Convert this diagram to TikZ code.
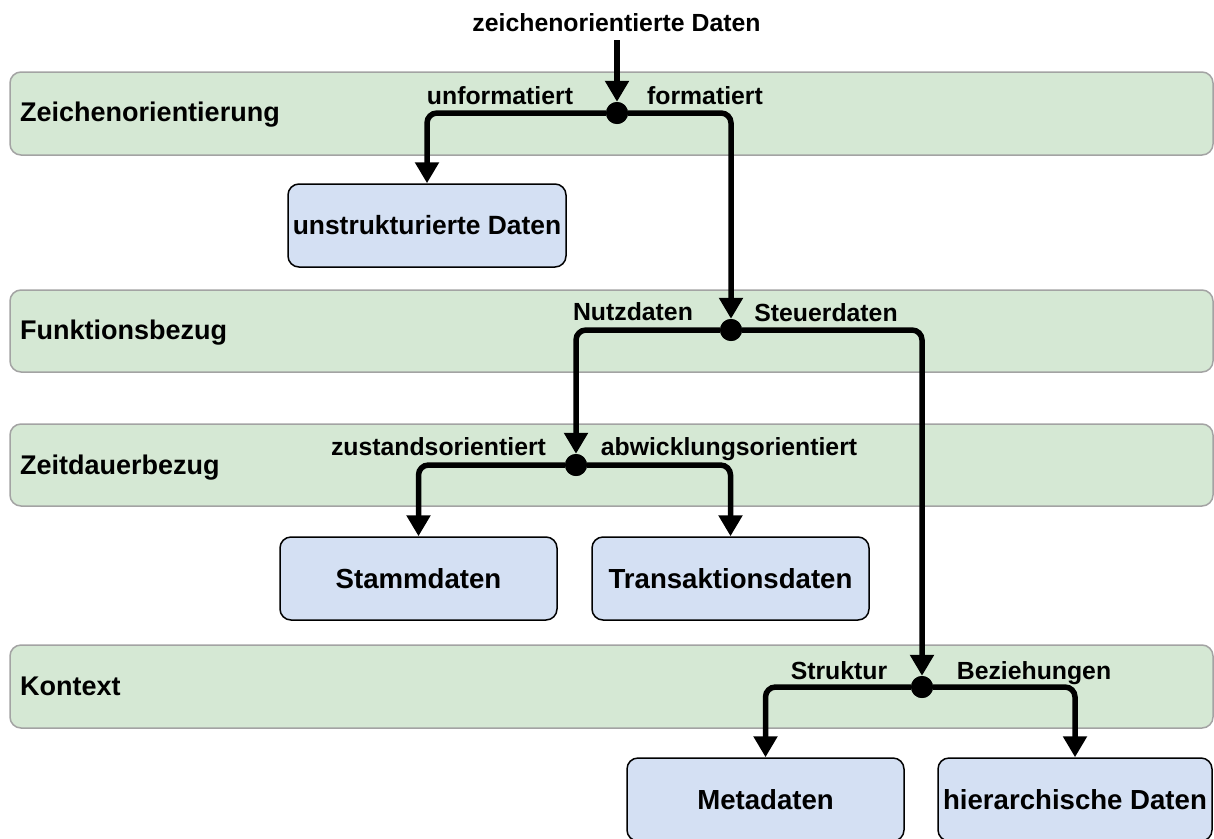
\documentclass[tikz,border=0pt]{standalone}
\usepackage{fontspec}
\setmainfont{Liberation Sans}
\usetikzlibrary{arrows.meta}
\definecolor{lanefill}{HTML}{D5E8D4}
\definecolor{laneline}{HTML}{A3A3A3}
\definecolor{boxfill}{HTML}{D4E0F3}
\tikzset{
  lane/.style={draw=laneline, fill=lanefill, line width=1.5pt, rounded corners=11pt},
  lanetitle/.style={anchor=base west, inner sep=0pt, font=\fontsize{27}{31}\selectfont\bfseries},
  databox/.style={draw=black, fill=boxfill, line width=1.5pt, rounded corners=11pt,
    minimum width=277pt, minimum height=83pt, inner sep=0pt,
    font=\fontsize{27.6}{31}\selectfont\bfseries},
  junction/.style={circle, fill=black, minimum size=22pt, inner sep=0pt},
  flow/.style={line width=5.5pt, rounded corners=10pt,
    -{Triangle[width=23pt,length=21pt]}},
  edgelabel/.style={anchor=base, inner sep=0pt, font=\fontsize{24.8}{28}\selectfont\bfseries}
}
\begin{document}
\begin{tikzpicture}[x=1pt, y=-1pt]
\useasboundingbox (0,0) rectangle (1214,838);
\clip (0,0) rectangle (1214,838);

% swim lanes
\draw[lane] (10,72) rectangle (1213,155);
\draw[lane] (10,290) rectangle (1213,372);
\draw[lane] (10,424) rectangle (1213,506);
\draw[lane] (10,645) rectangle (1213,728);

\node[lanetitle] (t1) at (20,121) {Zeichenorientierung};
\node[lanetitle] (t2) at (20,339) {Funktionsbezug};
\node[lanetitle] (t3) at (20,474) {Zeitdauerbezug};
\node[lanetitle] (t4) at (20,695) {Kontext};

% data categories
\node[databox, minimum width=278pt, font=\fontsize{26.4}{30}\selectfont\bfseries]
  (unstr) at (427,225.5) {unstrukturierte Daten};
\node[databox] (stamm) at (418.5,578.5) {Stammdaten};
\node[databox] (trans) at (730.5,578.5) {Transaktionsdaten};
\node[databox] (meta)  at (765.5,799.5) {Metadaten};
\node[databox, minimum width=274pt] (hier) at (1075,799.5) {hierarchische Daten};

% branch points
\node[junction] (d1) at (617,113) {};
\node[junction] (d2) at (731,330) {};
\node[junction] (d3) at (576,465) {};
\node[junction] (d4) at (922,687) {};

% input
\node[edgelabel] (src) at (616.5,31) {zeichenorientierte Daten};
\coordinate (in) at (617,40);
\draw[flow] (in) -- (d1.north);

% branches
\draw[flow] (d1) -| (unstr.north);
\draw[flow] (d1) -| (d2.north);
\draw[flow] (d2) -| (d3.north);
\draw[flow] (d2) -| (d4.north);
\draw[flow] (d3) -| (stamm.north);
\draw[flow] (d3) -| (trans.north);
\draw[flow] (d4) -| (meta.north);
\draw[flow] (d4) -| (hier.north);
\node[junction] at (d1) {};
\node[junction] at (d2) {};
\node[junction] at (d3) {};
\node[junction] at (d4) {};

% branch labels
\node[edgelabel] (l1) at (500,104) {unformatiert};
\node[edgelabel] (l2) at (705,104) {formatiert};
\node[edgelabel] (l3) at (633,320) {Nutzdaten};
\node[edgelabel] (l4) at (826,321) {Steuerdaten};
\node[edgelabel] (l5) at (438.5,455) {zustandsorientiert};
\node[edgelabel] (l6) at (729,455) {abwicklungsorientiert};
\node[edgelabel] (l7) at (839,679) {Struktur};
\node[edgelabel] (l8) at (1034,679) {Beziehungen};
\end{tikzpicture}
\end{document}
